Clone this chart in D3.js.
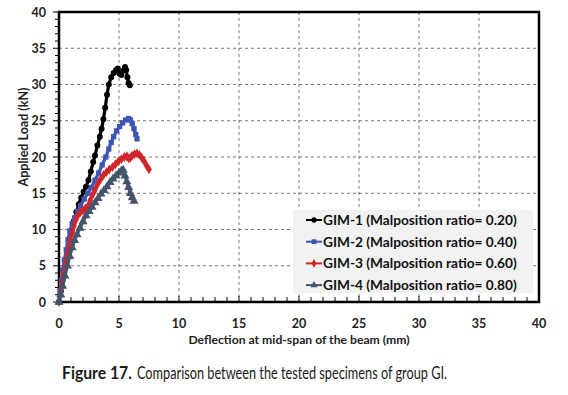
<!DOCTYPE html>
<html lang="en">
<head>
  <meta charset="utf-8">
  <script src="https://d3js.org/d3.v7.min.js"></script>
  <style>
    body { margin: 0; background: #fff; }
    svg text { font-family: "Lato", "Open Sans", sans-serif; }
  </style>
</head>
<body>
<script>
  // tick values and series (deflection mm, load kN)
  var xTicks = [0, 5, 10, 15, 20, 25, 30, 35, 40];
  var yTicks = [0, 5, 10, 15, 20, 25, 30, 35, 40];
  var names = ["GIM-1 (Malposition ratio= 0.20)", "GIM-2 (Malposition ratio= 0.40)",
               "GIM-3 (Malposition ratio= 0.60)", "GIM-4 (Malposition ratio= 0.80)"];
  var colors = ["#000000", "#3f55b3", "#d0262a", "#44546a"];
  var shapes = [d3.symbolCircle, d3.symbolSquare, d3.symbolDiamond, d3.symbolTriangle];

  var gim1 = [[0,0],[0.15,1.5],[0.3,3],[0.45,4.4],[0.6,5.8],[0.75,7.2],[0.9,8.5],[1.05,9.8],
    [1.25,11.2],[1.45,12.4],[1.65,13.5],[1.85,14.4],[2.05,15.2],[2.25,15.9],[2.45,16.8],[2.65,18],
    [2.85,19.3],[3,20.2],[3.2,21.6],[3.4,22.8],[3.55,23.9],[3.7,25.2],[3.85,26.8],[4,28.6],
    [4.15,30],[4.35,31],[4.55,31.6],[4.75,32],[4.9,32.2],[5.05,31.5],[5.2,31.3],[5.35,31.9],
    [5.5,32.4],[5.6,32],[5.7,31],[5.8,30.2],[5.9,29.9]];
  var gim2 = [[0,0],[0.1,1.5],[0.2,3],[0.3,4.4],[0.45,5.8],[0.6,7.2],[0.75,8.6],[0.9,9.8],
    [1.1,10.8],[1.3,11.6],[1.55,12.5],[1.8,13.3],[2.1,14.2],[2.4,15],[2.7,15.8],[3,16.8],
    [3.3,17.8],[3.6,18.9],[3.9,20],[4.15,21.1],[4.35,22],[4.55,22.8],[4.8,23.6],[5.05,24.2],
    [5.3,24.7],[5.55,25.1],[5.8,25.3],[5.95,25.1],[6.1,24.6],[6.25,23.9],[6.4,23.1],[6.5,22.5]];
  var gim3 = [[0,0],[0.1,1.2],[0.2,2.4],[0.35,3.8],[0.5,5],[0.65,6.3],[0.8,7.5],[0.95,8.6],
    [1.1,9.6],[1.25,10.5],[1.4,11.3],[1.6,12],[1.8,12.4],[2,12.6],[2.2,12.9],[2.4,13.2],
    [2.6,14],[2.8,14.8],[3,15.5],[3.2,16.2],[3.45,16.9],[3.7,17.5],[3.95,17.9],[4.2,18.3],
    [4.45,18.6],[4.7,19],[4.95,19.4],[5.2,19.7],[5.45,20],[5.65,20.1],[5.8,19.8],[5.95,19.9],
    [6.1,20.2],[6.3,20.4],[6.5,20.5],[6.7,20.3],[6.9,19.9],[7.1,19.4],[7.3,18.8],[7.5,18.3]];
  var gim4 = [[0,0],[0.15,1],[0.3,2.2],[0.5,3.6],[0.7,5],[0.9,6.3],[1.1,7.5],[1.3,8.5],
    [1.5,9.3],[1.75,10.2],[2,11.1],[2.25,11.9],[2.5,12.5],[2.75,13.1],[3,13.7],[3.25,14.3],
    [3.5,14.9],[3.75,15.4],[4,15.9],[4.25,16.5],[4.5,17],[4.75,17.4],[5,17.8],[5.2,18.1],
    [5.35,18.2],[5.5,17.4],[5.65,16.6],[5.8,15.8],[5.95,15],[6.1,14.4],[6.25,13.9]];
  var series = [gim1, gim2, gim3, gim4];

  var width = 568, height = 395;
  var pL = 59, pR = 539, pT = 12, pB = 302;

  var svg = d3.select("body").append("svg")
    .attr("width", width).attr("height", height);

  var x = d3.scaleLinear().domain([0, 40]).range([pL, pR]);
  var y = d3.scaleLinear().domain([0, 40]).range([pB, pT]);

  // dashed grid
  svg.append("g").selectAll("line").data(xTicks.slice(1, -1)).enter().append("line")
    .attr("x1", d => x(d)).attr("x2", d => x(d)).attr("y1", pT).attr("y2", pB)
    .attr("stroke", "#777").attr("stroke-dasharray", "3,3").attr("stroke-width", 1);
  svg.append("g").selectAll("line").data(yTicks.slice(1, -1)).enter().append("line")
    .attr("y1", d => y(d)).attr("y2", d => y(d)).attr("x1", pL).attr("x2", pR)
    .attr("stroke", "#777").attr("stroke-dasharray", "3,3").attr("stroke-width", 1);

  // minor + major tick marks
  var minor = d3.range(0, 41);
  svg.append("g").selectAll("line").data(minor).enter().append("line")
    .attr("x1", d => x(d)).attr("x2", d => x(d))
    .attr("y1", d => d % 5 ? pB - 5 : pB - 6).attr("y2", pB)
    .attr("stroke", "#000").attr("stroke-width", 1);
  svg.append("g").selectAll("line").data(minor).enter().append("line")
    .attr("y1", d => y(d)).attr("y2", d => y(d))
    .attr("x1", d => d % 5 ? pL - 4 : pL - 6).attr("x2", pL)
    .attr("stroke", "#000").attr("stroke-width", 1);

  // frame
  svg.append("rect").attr("x", pL).attr("y", pT)
    .attr("width", pR - pL).attr("height", pB - pT)
    .attr("fill", "none").attr("stroke", "#000").attr("stroke-width", 2.5);

  // tick labels
  svg.append("g").selectAll("text").data(xTicks).enter().append("text")
    .attr("x", d => x(d)).attr("y", pB + 26).attr("text-anchor", "middle")
    .attr("font-size", 12.5).attr("font-weight", "bold").attr("fill", "#222").text(d => d);
  svg.append("g").selectAll("text").data(yTicks).enter().append("text")
    .attr("x", pL - 13).attr("y", d => y(d) + 4.5).attr("text-anchor", "end")
    .attr("font-size", 12.5).attr("font-weight", "bold").attr("fill", "#222").text(d => d);

  // axis titles
  svg.append("text").attr("x", (pL + pR) / 2).attr("y", 343.5).attr("text-anchor", "middle")
    .attr("font-size", 12.2).attr("font-weight", "bold").attr("fill", "#222")
    .text("Deflection at mid-span of the beam (mm)");
  svg.append("text").attr("transform", "translate(28,137) rotate(-90)")
    .attr("text-anchor", "middle").attr("font-size", 12.5).attr("font-weight", "bold")
    .attr("fill", "#222").text("Applied Load (kN)");

  // series
  var line = d3.line().x(d => x(d[0])).y(d => y(d[1]));
  series.forEach(function(s, i) {
    var g = svg.append("g");
    g.append("path").datum(s).attr("d", line).attr("fill", "none")
      .attr("stroke", colors[i]).attr("stroke-width", 3.2).attr("stroke-linejoin", "round");
    g.selectAll("path.m").data(s).enter().append("path").attr("class", "m")
      .attr("transform", d => "translate(" + x(d[0]) + "," + y(d[1]) + ")")
      .attr("d", d3.symbol().type(shapes[i]).size(i == 3 ? 36 : 28))
      .attr("fill", colors[i]);
  });

  // legend
  var lg = svg.append("g");
  lg.append("rect").attr("x", 293).attr("y", 210).attr("width", 240).attr("height", 83)
    .attr("fill", "#f2f2f2");
  names.forEach(function(n, i) {
    var ly = 220 + i * 21.7;
    lg.append("line").attr("x1", 306).attr("x2", 322).attr("y1", ly).attr("y2", ly)
      .attr("stroke", colors[i]).attr("stroke-width", 2);
    lg.append("path").attr("transform", "translate(314," + ly + ")")
      .attr("d", d3.symbol().type(shapes[i]).size(22)).attr("fill", colors[i]);
    lg.append("text").attr("x", 323).attr("y", ly + 4.8).attr("font-size", 13.7)
      .attr("font-weight", "bold").attr("fill", "#111").text(n);
  });

  // caption: bold label, then the sentence, both squeezed like a condensed face
  svg.append("text").attr("x", 62).attr("y", 378.5).attr("font-size", 16.5)
    .attr("font-family", "Roboto").attr("font-weight", "bold").attr("fill", "#1a1a1a")
    .attr("textLength", 70).attr("lengthAdjust", "spacingAndGlyphs").text("Figure 17.");
  svg.append("text").attr("x", 137).attr("y", 378.5).attr("font-size", 16.5)
    .attr("font-family", "Roboto").attr("fill", "#1a1a1a")
    .attr("textLength", 310).attr("lengthAdjust", "spacingAndGlyphs")
    .text("Comparison between the tested specimens of group GI.");
</script>
</body>
</html>
